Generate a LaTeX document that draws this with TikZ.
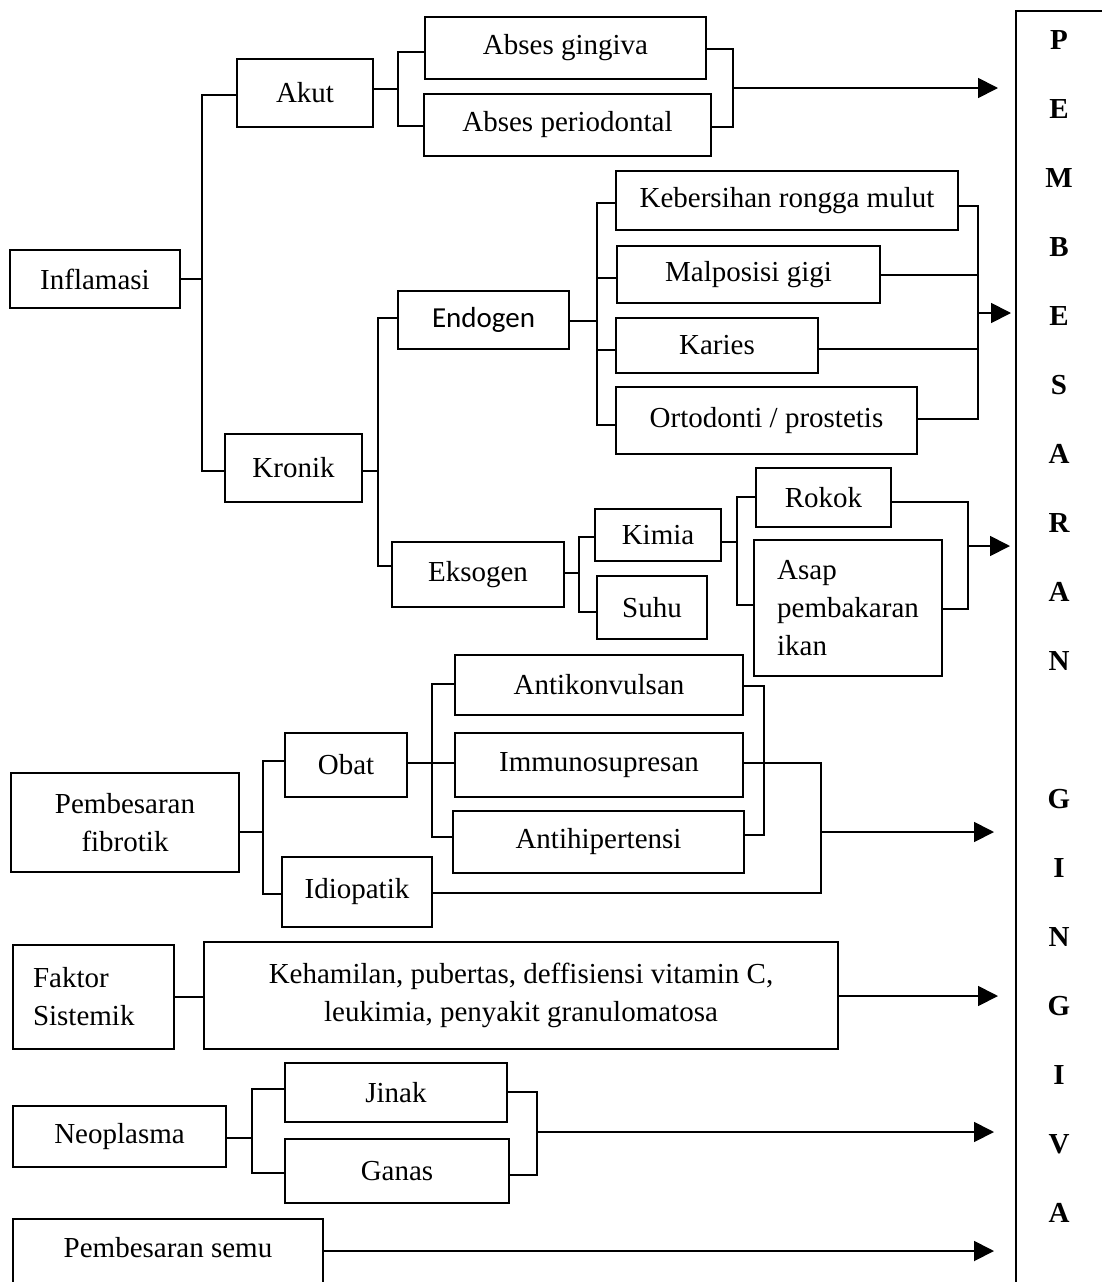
\documentclass[tikz,border=0pt]{standalone}
\usepackage{fontspec}
\setmainfont{Liberation Serif}
\newfontfamily\calibfont{Carlito}
\usetikzlibrary{arrows.meta}
\begin{document}
\begin{tikzpicture}[x=1pt,y=-1pt,
  box/.style={draw, line width=1.8pt, inner sep=0pt, font=\fontsize{29}{38}\selectfont},
  conn/.style={line width=1.8pt},
  arr/.style={line width=1.8pt, -{Triangle[length=20pt,width=20pt]}},
  letter/.style={font=\fontsize{29}{38}\selectfont\bfseries, inner sep=0pt}]
\useasboundingbox (0,0) rectangle (1102,1282);
\clip (0,0) rectangle (1102,1282);
\fill[white] (0,0) rectangle (1102,1282);

% nodes
\node[box, minimum width=170pt, minimum height=58pt] (infl) at (95,279) {Inflamasi};
\node[box, minimum width=136pt, minimum height=68pt] (akut) at (305,93) {Akut};
\node[box, minimum width=281pt, minimum height=62pt] (absg) at (565.5,48) {Abses gingiva};
\node[box, minimum width=287pt, minimum height=62pt] (absp) at (567.5,125) {Abses periodontal};
\node[box, minimum width=171pt, minimum height=58pt, font=\fontsize{29}{38}\calibfont] (endo) at (483.5,320) {Endogen};
\node[box, minimum width=137pt, minimum height=68pt] (kron) at (293.5,468) {Kronik};
\node[box, minimum width=342pt, minimum height=59pt] (keb) at (787,200.5) {Kebersihan rongga mulut};
\node[box, minimum width=263pt, minimum height=57pt] (malp) at (748.5,274.5) {Malposisi gigi};
\node[box, minimum width=202pt, minimum height=55pt] (kar) at (717,345.5) {Karies};
\node[box, minimum width=301pt, minimum height=67pt] (orto) at (766.5,420.5) {Ortodonti / prostetis};
\node[box, minimum width=172pt, minimum height=65pt] (eks) at (478,574.5) {Eksogen};
\node[box, minimum width=126pt, minimum height=52pt] (kim) at (658,535) {Kimia};
\node[box, minimum width=110pt, minimum height=63pt] (suhu) at (652,607.5) {Suhu};
\node[box, minimum width=135pt, minimum height=59pt] (rok) at (823.5,497.5) {Rokok};
\node[box, minimum width=188pt, minimum height=136pt, align=left] (asap) at (848,608) {Asap\\pembakaran\\ikan};
\node[box, minimum width=288pt, minimum height=60pt] (antik) at (599,685) {Antikonvulsan};
\node[box, minimum width=288pt, minimum height=64pt] (immu) at (599,765) {Immunosupresan};
\node[box, minimum width=291pt, minimum height=62pt] (anth) at (598.5,842) {Antihipertensi};
\node[box, minimum width=122pt, minimum height=64pt] (obat) at (346,765) {Obat};
\node[box, minimum width=150pt, minimum height=70pt] (idio) at (357,892) {Idiopatik};
\node[box, minimum width=228pt, minimum height=99pt, align=center] (fib) at (125,822.5) {Pembesaran\\fibrotik};
\node[box, text width=121pt, inner xsep=20pt, minimum height=104pt, align=left] (fak) at (93.5,997) {Faktor\\Sistemik};
\node[box, minimum width=634pt, minimum height=107pt, align=center] (keh) at (521,995.5) {Kehamilan, pubertas, deffisiensi vitamin C,\\leukimia, penyakit granulomatosa};
\node[box, minimum width=213pt, minimum height=61pt] (neo) at (119.5,1136.5) {Neoplasma};
\node[box, minimum width=222pt, minimum height=59pt] (jin) at (396,1092.5) {Jinak};
\node[box, minimum width=224pt, minimum height=64pt] (gan) at (397,1171) {Ganas};
\node[box, minimum width=310pt, minimum height=72pt, text depth=16pt] (semu) at (168,1255) {Pembesaran semu};

% big right box with letters
\draw[conn] (1016,1295) -- (1016,11) -- (1110,11);
\foreach \L/\yy in {P/40,E/109,M/178,B/247,E/316,S/385,A/454,R/523,A/592,N/661,G/799,I/868,N/937,G/1006,I/1075,V/1144,A/1213}
  \node[letter] (let\yy) at (1059,\yy) {\L};

% Inflamasi
\coordinate (b1t) at (202,95); \coordinate (b1b) at (202,471); \coordinate (b1m) at (202,279);
\draw[conn] (infl.east |- b1m) -- (b1m);
\draw[conn] (akut.west |- b1t) -- (b1t) -- (b1b) -- (kron.west |- b1b);

% Akut
\coordinate (b2t) at (398,52); \coordinate (b2b) at (398,126); \coordinate (b2m) at (398,89);
\draw[conn] (akut.east |- b2m) -- (b2m);
\draw[conn] (absg.west |- b2t) -- (b2t) -- (b2b) -- (absp.west |- b2b);

\coordinate (b3t) at (733,49); \coordinate (b3b) at (733,127); \coordinate (b3m) at (733,88); \coordinate (t1) at (998,88);
\draw[conn] (absg.east |- b3t) -- (b3t) -- (b3b) -- (absp.east |- b3b);
\draw[arr] (b3m) -- (t1);

% Kronik
\coordinate (b4t) at (378,318); \coordinate (b4b) at (378,566); \coordinate (b4m) at (378,471);
\draw[conn] (kron.east |- b4m) -- (b4m);
\draw[conn] (endo.west |- b4t) -- (b4t) -- (b4b) -- (eks.west |- b4b);

% Endogen
\coordinate (b5t) at (597,203); \coordinate (b5b) at (597,425); \coordinate (b5m) at (597,321);
\coordinate (b5a) at (597,278); \coordinate (b5c) at (597,350);
\draw[conn] (endo.east |- b5m) -- (b5m);
\draw[conn] (keb.west |- b5t) -- (b5t) -- (b5b) -- (orto.west |- b5b);
\draw[conn] (malp.west |- b5a) -- (b5a);
\draw[conn] (kar.west |- b5c) -- (b5c);

\coordinate (b6t) at (978,206); \coordinate (b6b) at (978,419); \coordinate (b6m) at (978,313); \coordinate (t2) at (1011,313);
\coordinate (b6a) at (978,275); \coordinate (b6c) at (978,349);
\draw[conn] (keb.east |- b6t) -- (b6t) -- (b6b) -- (orto.east |- b6b);
\draw[conn] (malp.east |- b6a) -- (b6a);
\draw[conn] (kar.east |- b6c) -- (b6c);
\draw[arr] (b6m) -- (t2);

% Eksogen
\coordinate (b7t) at (579,537); \coordinate (b7b) at (579,612); \coordinate (b7m) at (579,573);
\draw[conn] (eks.east |- b7m) -- (b7m);
\draw[conn] (kim.west |- b7t) -- (b7t) -- (b7b) -- (suhu.west |- b7b);

\coordinate (b8t) at (737,497); \coordinate (b8b) at (737,605); \coordinate (b8m) at (737,542);
\draw[conn] (kim.east |- b8m) -- (b8m);
\draw[conn] (rok.west |- b8t) -- (b8t) -- (b8b) -- (asap.west |- b8b);

\coordinate (b9t) at (968,502); \coordinate (b9b) at (968,609); \coordinate (b9m) at (968,546); \coordinate (t3) at (1010,546);
\draw[conn] (rok.east |- b9t) -- (b9t) -- (b9b) -- (asap.east |- b9b);
\draw[arr] (b9m) -- (t3);

% Fibrotik
\coordinate (b10t) at (263,761); \coordinate (b10b) at (263,894); \coordinate (b10m) at (263,832);
\draw[conn] (fib.east |- b10m) -- (b10m);
\draw[conn] (obat.west |- b10t) -- (b10t) -- (b10b) -- (idio.west |- b10b);

\coordinate (b11t) at (432,684); \coordinate (b11b) at (432,837); \coordinate (b11m) at (432,763);
\draw[conn] (obat.east |- b11m) -- (b11m) -- (immu.west |- b11m);
\draw[conn] (antik.west |- b11t) -- (b11t) -- (b11b) -- (anth.west |- b11b);

\coordinate (b12t) at (764,686); \coordinate (b12b) at (764,835);
\draw[conn] (antik.east |- b12t) -- (b12t) -- (b12b) -- (anth.east |- b12b);

\coordinate (b13t) at (821,763); \coordinate (b13b) at (821,893); \coordinate (b13m) at (821,832); \coordinate (t4) at (994,832);
\draw[conn] (immu.east |- b13t) -- (b13t) -- (b13b) -- (idio.east |- b13b);
\draw[arr] (b13m) -- (t4);

% Faktor sistemik
\coordinate (t5) at (998,996); \coordinate (fk) at (190,997);
\draw[conn] (fak.east |- fk) -- (keh.west |- fk);
\draw[arr] (keh.east |- t5) -- (t5);

% Neoplasma
\coordinate (b16t) at (252,1089); \coordinate (b16b) at (252,1173); \coordinate (b16m) at (252,1138);
\draw[conn] (neo.east |- b16m) -- (b16m);
\draw[conn] (jin.west |- b16t) -- (b16t) -- (b16b) -- (gan.west |- b16b);

\coordinate (b17t) at (537,1092); \coordinate (b17b) at (537,1175); \coordinate (b17m) at (537,1132); \coordinate (t6) at (994,1132);
\draw[conn] (jin.east |- b17t) -- (b17t) -- (b17b) -- (gan.east |- b17b);
\draw[arr] (b17m) -- (t6);

% Pembesaran semu
\coordinate (t7) at (994,1251);
\draw[arr] (semu.east |- t7) -- (t7);
\end{tikzpicture}
\end{document}
